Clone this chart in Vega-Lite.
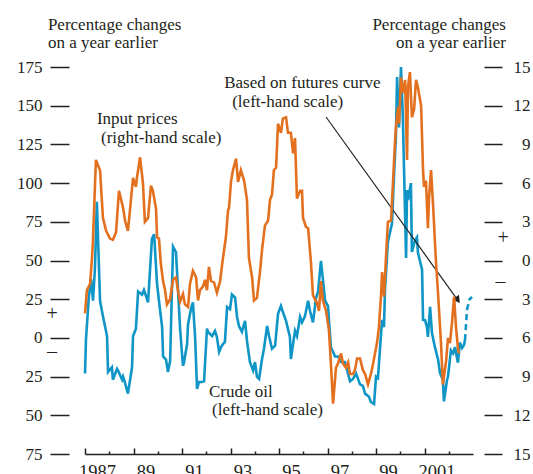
{
  "$schema": "https://vega.github.io/schema/vega-lite/v6.json",
  "width": 388,
  "height": 387,
  "autosize": "none",
  "padding": {"left": 85, "top": 67, "right": 60, "bottom": 20},
  "config": {
    "view": {"stroke": null},
    "font": "Liberation Serif",
    "axis": {"grid": false, "labelFont": "Liberation Serif", "labelFontSize": 17, "labelColor": "#231f20", "tickColor": "#231f20", "domainColor": "#231f20", "tickWidth": 1.5, "domainWidth": 1.5},
    "text": {"font": "Liberation Serif", "fontSize": 17, "color": "#231f20"}
  },
  "datasets": {
    "crude": [
      {"t": 1987.00, "v": -23}, {"t": 1987.04, "v": -1}, {"t": 1987.16, "v": 27}, {"t": 1987.25, "v": 38}, {"t": 1987.33, "v": 24}, {"t": 1987.41, "v": 45}, {"t": 1987.49, "v": 88}, {"t": 1987.62, "v": 24}, {"t": 1987.74, "v": 14}, {"t": 1987.91, "v": 1}, {"t": 1987.95, "v": -22},
      {"t": 1988.11, "v": -19}, {"t": 1988.15, "v": -27}, {"t": 1988.32, "v": -20}, {"t": 1988.36, "v": -21}, {"t": 1988.53, "v": -27}, {"t": 1988.57, "v": -25}, {"t": 1988.65, "v": -29}, {"t": 1988.77, "v": -36}, {"t": 1988.94, "v": -19}, {"t": 1988.98, "v": 1},
      {"t": 1989.10, "v": 6}, {"t": 1989.19, "v": 30}, {"t": 1989.35, "v": 28}, {"t": 1989.43, "v": 31}, {"t": 1989.56, "v": 25}, {"t": 1989.60, "v": 23}, {"t": 1989.76, "v": 64}, {"t": 1989.85, "v": 67}, {"t": 1989.97, "v": 35},
      {"t": 1990.05, "v": 24}, {"t": 1990.18, "v": 7}, {"t": 1990.22, "v": -12}, {"t": 1990.34, "v": -14}, {"t": 1990.42, "v": -22}, {"t": 1990.51, "v": -15}, {"t": 1990.63, "v": 59}, {"t": 1990.75, "v": 55.5}, {"t": 1990.84, "v": 30}, {"t": 1990.92, "v": 6},
      {"t": 1991.04, "v": -18}, {"t": 1991.08, "v": -16}, {"t": 1991.21, "v": -4}, {"t": 1991.25, "v": 9}, {"t": 1991.37, "v": 18.6}, {"t": 1991.45, "v": 23}, {"t": 1991.54, "v": 0.6}, {"t": 1991.62, "v": -33}, {"t": 1991.70, "v": -28.5}, {"t": 1991.82, "v": -28.5}, {"t": 1991.91, "v": -28},
      {"t": 1992.03, "v": 6}, {"t": 1992.07, "v": 4}, {"t": 1992.24, "v": 1.2}, {"t": 1992.36, "v": 4.5}, {"t": 1992.44, "v": 0.6}, {"t": 1992.53, "v": -9}, {"t": 1992.61, "v": -6}, {"t": 1992.69, "v": -4}, {"t": 1992.77, "v": -2.6}, {"t": 1992.86, "v": 20}, {"t": 1992.98, "v": 18.6},
      {"t": 1993.06, "v": 28}, {"t": 1993.19, "v": 26}, {"t": 1993.27, "v": 13.5}, {"t": 1993.35, "v": 7.7}, {"t": 1993.47, "v": 4}, {"t": 1993.60, "v": 11}, {"t": 1993.68, "v": -2}, {"t": 1993.80, "v": -15.6}, {"t": 1993.93, "v": -21},
      {"t": 1994.01, "v": -15.6}, {"t": 1994.09, "v": -25}, {"t": 1994.18, "v": -26.5}, {"t": 1994.30, "v": -13.6}, {"t": 1994.38, "v": -7}, {"t": 1994.51, "v": 7.7}, {"t": 1994.59, "v": 1.2}, {"t": 1994.71, "v": -7}, {"t": 1994.84, "v": -5}, {"t": 1994.96, "v": 15.5},
      {"t": 1995.08, "v": 20.6}, {"t": 1995.16, "v": 16.7}, {"t": 1995.29, "v": 11}, {"t": 1995.45, "v": 0.6}, {"t": 1995.49, "v": -13.6}, {"t": 1995.66, "v": 4.5}, {"t": 1995.74, "v": 1.2}, {"t": 1995.87, "v": 13.5}, {"t": 1995.95, "v": 10},
      {"t": 1996.07, "v": 14}, {"t": 1996.20, "v": 24}, {"t": 1996.28, "v": 17.4}, {"t": 1996.40, "v": 10}, {"t": 1996.53, "v": 26}, {"t": 1996.61, "v": 29.7}, {"t": 1996.73, "v": 49.7}, {"t": 1996.81, "v": 38}, {"t": 1996.90, "v": 24},
      {"t": 1997.02, "v": 20.6}, {"t": 1997.14, "v": -6}, {"t": 1997.23, "v": -9}, {"t": 1997.31, "v": -12}, {"t": 1997.43, "v": -12}, {"t": 1997.56, "v": -15.6}, {"t": 1997.72, "v": -15.6}, {"t": 1997.76, "v": -18}, {"t": 1997.93, "v": -28},
      {"t": 1998.05, "v": -26.5}, {"t": 1998.18, "v": -23}, {"t": 1998.34, "v": -30}, {"t": 1998.46, "v": -31}, {"t": 1998.55, "v": -36}, {"t": 1998.71, "v": -38}, {"t": 1998.79, "v": -41.4}, {"t": 1998.92, "v": -42.7},
      {"t": 1999.00, "v": -25}, {"t": 1999.08, "v": -26}, {"t": 1999.16, "v": -8}, {"t": 1999.25, "v": 11.6}, {"t": 1999.33, "v": 7}, {"t": 1999.37, "v": 31}, {"t": 1999.49, "v": 62}, {"t": 1999.66, "v": 74}, {"t": 1999.74, "v": 104}, {"t": 1999.82, "v": 130}, {"t": 1999.87, "v": 168.5}, {"t": 1999.95, "v": 136},
      {"t": 2000.03, "v": 175}, {"t": 2000.11, "v": 141}, {"t": 2000.15, "v": 113}, {"t": 2000.24, "v": 51.6}, {"t": 2000.28, "v": 95.5}, {"t": 2000.32, "v": 89}, {"t": 2000.44, "v": 100}, {"t": 2000.48, "v": 55.5}, {"t": 2000.61, "v": 63}, {"t": 2000.69, "v": 65}, {"t": 2000.73, "v": 55}, {"t": 2000.90, "v": 44}, {"t": 2000.94, "v": 11.6},
      {"t": 2001.02, "v": 11.6}, {"t": 2001.10, "v": 7}, {"t": 2001.14, "v": 0.6}, {"t": 2001.23, "v": 20}, {"t": 2001.31, "v": 3}, {"t": 2001.43, "v": -6}, {"t": 2001.56, "v": -14}, {"t": 2001.64, "v": -22.7}, {"t": 2001.76, "v": -27}, {"t": 2001.80, "v": -41}, {"t": 2001.93, "v": -27}, {"t": 2001.97, "v": -25},
      {"t": 2002.09, "v": -8}, {"t": 2002.18, "v": -10}, {"t": 2002.26, "v": -6}, {"t": 2002.34, "v": -13}, {"t": 2002.38, "v": -16}, {"t": 2002.46, "v": -3}, {"t": 2002.55, "v": -6.5}, {"t": 2002.63, "v": -4.6}, {"t": 2002.67, "v": -1.4}
    ],
    "futures": [
      {"t": 2002.67, "v": -1.4}, {"t": 2002.71, "v": 8}, {"t": 2002.75, "v": 18}, {"t": 2002.86, "v": 25}, {"t": 2002.96, "v": 26.5}
    ],
    "input": [
      {"t": 1987.00, "v": -4.1}, {"t": 1987.08, "v": -2.3}, {"t": 1987.21, "v": -1.8}, {"t": 1987.29, "v": 0.2}, {"t": 1987.33, "v": 1.6}, {"t": 1987.45, "v": 7.8}, {"t": 1987.62, "v": 7.0}, {"t": 1987.74, "v": 3.3}, {"t": 1987.87, "v": 2.3},
      {"t": 1988.03, "v": 1.7}, {"t": 1988.15, "v": 1.6}, {"t": 1988.28, "v": 2.2}, {"t": 1988.40, "v": 5.4}, {"t": 1988.57, "v": 4.1}, {"t": 1988.65, "v": 3.1}, {"t": 1988.77, "v": 2.3}, {"t": 1988.86, "v": 4.0}, {"t": 1988.98, "v": 6.4},
      {"t": 1989.10, "v": 5.7}, {"t": 1989.14, "v": 6.4}, {"t": 1989.27, "v": 8.0}, {"t": 1989.39, "v": 6.0}, {"t": 1989.47, "v": 3.0}, {"t": 1989.60, "v": 3.3}, {"t": 1989.72, "v": 5.8}, {"t": 1989.80, "v": 5.4}, {"t": 1989.93, "v": 4.0}, {"t": 1989.97, "v": 1.8},
      {"t": 1990.05, "v": 1.7}, {"t": 1990.13, "v": -0.3}, {"t": 1990.22, "v": -1.6}, {"t": 1990.30, "v": -2.3}, {"t": 1990.38, "v": -3.4}, {"t": 1990.51, "v": -3.0}, {"t": 1990.63, "v": -1.5}, {"t": 1990.75, "v": -1.3}, {"t": 1990.84, "v": -2.4}, {"t": 1990.92, "v": -3.2},
      {"t": 1991.04, "v": -2.6}, {"t": 1991.12, "v": -3.4}, {"t": 1991.25, "v": -3.6}, {"t": 1991.33, "v": -1.8}, {"t": 1991.45, "v": -0.8}, {"t": 1991.58, "v": -1.3}, {"t": 1991.66, "v": -3.1}, {"t": 1991.74, "v": -2.3}, {"t": 1991.87, "v": -2.0}, {"t": 1991.95, "v": -1.5},
      {"t": 1992.03, "v": -2.3}, {"t": 1992.11, "v": -0.5}, {"t": 1992.20, "v": -1.6}, {"t": 1992.32, "v": -1.7}, {"t": 1992.44, "v": -2.5}, {"t": 1992.57, "v": -1.6}, {"t": 1992.69, "v": 0.2}, {"t": 1992.81, "v": 1.8}, {"t": 1992.90, "v": 3.9}, {"t": 1992.94, "v": 4.1},
      {"t": 1993.02, "v": 6.1}, {"t": 1993.10, "v": 7.0}, {"t": 1993.23, "v": 7.9}, {"t": 1993.31, "v": 6.1}, {"t": 1993.43, "v": 7.0}, {"t": 1993.56, "v": 6.2}, {"t": 1993.68, "v": 4.7}, {"t": 1993.76, "v": 0.2}, {"t": 1993.89, "v": -1.3}, {"t": 1993.97, "v": -3.1},
      {"t": 1994.09, "v": -2.9}, {"t": 1994.22, "v": -0.8}, {"t": 1994.30, "v": 0.8}, {"t": 1994.42, "v": 2.7}, {"t": 1994.55, "v": 3.1}, {"t": 1994.63, "v": 4.7}, {"t": 1994.71, "v": 5.1}, {"t": 1994.79, "v": 7.0}, {"t": 1994.88, "v": 7.2}, {"t": 1994.96, "v": 10.6},
      {"t": 1995.08, "v": 9.9}, {"t": 1995.16, "v": 11.0}, {"t": 1995.29, "v": 11.1}, {"t": 1995.37, "v": 9.9}, {"t": 1995.49, "v": 9.9}, {"t": 1995.58, "v": 8.3}, {"t": 1995.66, "v": 9.5}, {"t": 1995.74, "v": 4.8}, {"t": 1995.87, "v": 5.4}, {"t": 1995.95, "v": 5.4}, {"t": 1995.99, "v": 3.3},
      {"t": 1996.11, "v": 2.6}, {"t": 1996.20, "v": 2.5}, {"t": 1996.32, "v": -0.2}, {"t": 1996.40, "v": -2.7}, {"t": 1996.57, "v": -3.3}, {"t": 1996.65, "v": -3.9}, {"t": 1996.73, "v": -1.6}, {"t": 1996.81, "v": -3.1}, {"t": 1996.94, "v": -3.9},
      {"t": 1997.06, "v": -5.4}, {"t": 1997.14, "v": -8.0}, {"t": 1997.23, "v": -11.1}, {"t": 1997.35, "v": -8.3}, {"t": 1997.43, "v": -8.0}, {"t": 1997.56, "v": -7.2}, {"t": 1997.64, "v": -8.0}, {"t": 1997.76, "v": -8.3}, {"t": 1997.85, "v": -7.9}, {"t": 1997.93, "v": -8.8},
      {"t": 1998.05, "v": -8.8}, {"t": 1998.13, "v": -8.5}, {"t": 1998.22, "v": -7.6}, {"t": 1998.34, "v": -7.6}, {"t": 1998.46, "v": -8.5}, {"t": 1998.55, "v": -8.8}, {"t": 1998.67, "v": -9.6}, {"t": 1998.79, "v": -8.8}, {"t": 1998.88, "v": -8.0}, {"t": 1998.96, "v": -7.2},
      {"t": 1999.04, "v": -6.4}, {"t": 1999.12, "v": -5.2}, {"t": 1999.21, "v": -2.6}, {"t": 1999.25, "v": -0.9}, {"t": 1999.33, "v": -2.8}, {"t": 1999.41, "v": 0.2}, {"t": 1999.49, "v": 3.0}, {"t": 1999.62, "v": 3.1}, {"t": 1999.70, "v": 6.0}, {"t": 1999.78, "v": 9.1}, {"t": 1999.82, "v": 10.3}, {"t": 1999.91, "v": 11.9}, {"t": 1999.95, "v": 10.6},
      {"t": 2000.03, "v": 14.2}, {"t": 2000.11, "v": 13.0}, {"t": 2000.20, "v": 14.0}, {"t": 2000.28, "v": 7.8}, {"t": 2000.32, "v": 13.5}, {"t": 2000.40, "v": 14.6}, {"t": 2000.48, "v": 11.1}, {"t": 2000.57, "v": 11.7}, {"t": 2000.65, "v": 14.0}, {"t": 2000.73, "v": 13.4}, {"t": 2000.86, "v": 12.0}, {"t": 2000.94, "v": 7.0}, {"t": 2000.98, "v": 5.7},
      {"t": 2001.06, "v": 6.2}, {"t": 2001.14, "v": 2.5}, {"t": 2001.19, "v": 4.9}, {"t": 2001.27, "v": 7.0}, {"t": 2001.35, "v": 4.4}, {"t": 2001.47, "v": 0}, {"t": 2001.56, "v": -2.6}, {"t": 2001.68, "v": -6.4}, {"t": 2001.76, "v": -9.6}, {"t": 2001.89, "v": -7.8}, {"t": 2001.97, "v": -6.0},
      {"t": 2002.05, "v": -6.4}, {"t": 2002.13, "v": -4.9}, {"t": 2002.22, "v": -2.8}, {"t": 2002.30, "v": -5.2}, {"t": 2002.38, "v": -6.8}, {"t": 2002.42, "v": -7.2}
    ],
    "labelsLeft": [
      {"t": 1985.47, "v": 202.1, "label": "Percentage changes"},
      {"t": 1985.47, "v": 190.5, "label": "on a year earlier"},
      {"t": 1987.49, "v": 141.4, "label": "Input prices"},
      {"t": 1987.66, "v": 129.1, "label": "(right-hand scale)"},
      {"t": 1992.74, "v": 164.5, "label": "Based on futures curve"},
      {"t": 1993.07, "v": 152.2, "label": "(left-hand scale)"},
      {"t": 1992.11, "v": -34.9, "label": "Crude oil"},
      {"t": 1992.24, "v": -46.6, "label": "(left-hand scale)"}
    ],
    "labelsRight": [
      {"t": 2004.36, "v": 202.1, "label": "Percentage changes"},
      {"t": 2004.36, "v": 190.5, "label": "on a year earlier"}
    ],
    "signs": [
      {"t": 1985.64, "v": 15.4, "label": "+"},
      {"t": 1985.64, "v": -9.1, "label": "–"},
      {"t": 2004.24, "v": 64.4, "label": "+"},
      {"t": 2004.13, "v": 35.9, "label": "–"}
    ],
    "arrow": [
      {"t": 1996.94, "v": 142.7, "t2": 2002.34, "v2": 25.1}
    ],
    "arrowHead": [
      {"t": 2002.34, "v": 25.1}
    ]
  },
  "encoding": {
    "x": {"field": "t", "type": "quantitative", "scale": {"domain": [1987, 2003], "nice": false, "zero": false},
      "axis": {"values": [1987,1988,1989,1990,1991,1992,1993,1994,1995,1996,1997,1998,1999,2000,2001,2002], "title": null, "orient": "bottom", "domain": true,
        "tickSize": {"condition": {"test": "datum.value % 2 == 1", "value": -6}, "value": -3},
        "labelFontSize": 18.5, "labelPadding": 14, "labelOffset": 12, "labelAlign": "center", "labelBaseline": "top", "labelFlush": false, "labelOverlap": false,
        "labelExpr": "datum.value % 2 == 1 ? (datum.value == 1987 || datum.value == 2001 ? toString(datum.value) : substring(toString(datum.value), 2)) : ''"}}
  },
  "layer": [
    {
      "encoding": {
        "y": {"field": "v", "type": "quantitative", "scale": {"domain": [-75, 175], "nice": false, "zero": false},
          "axis": {"values": [-75,-50,-25,0,25,50,75,100,125,150,175], "title": null, "orient": "left", "domain": false, "offset": 16, "tickSize": 19, "labelPadding": 8, "labelExpr": "toString(abs(datum.value))"}}
      },
      "layer": [
        {
          "data": {"name": "crude"},
          "mark": {"type": "line", "color": "#0f95c6", "strokeWidth": 2.6}
        },
        {
          "data": {"name": "futures"},
          "mark": {"type": "line", "color": "#0f95c6", "strokeWidth": 2.6, "strokeDash": [6, 4]}
        },
        {
          "data": {"name": "arrow"},
          "mark": {"type": "rule", "color": "#231f20", "strokeWidth": 1.2},
          "encoding": {
            "x2": {"field": "t2"},
            "y2": {"field": "v2"}
          }
        },
        {
          "data": {"name": "arrowHead"},
          "mark": {"type": "point", "shape": "triangle", "filled": true, "color": "#231f20", "size": 70, "angle": 144, "opacity": 1}
        },
        {
          "data": {"name": "labelsLeft"},
          "mark": {"type": "text", "align": "left", "baseline": "middle"},
          "encoding": {"text": {"field": "label"}}
        },
        {
          "data": {"name": "labelsRight"},
          "mark": {"type": "text", "align": "right", "baseline": "middle"},
          "encoding": {"text": {"field": "label"}}
        },
        {
          "data": {"name": "signs"},
          "mark": {"type": "text", "align": "center", "baseline": "middle", "fontSize": 20},
          "encoding": {"text": {"field": "label"}}
        }
      ]
    },
    {
      "data": {"name": "input"},
      "mark": {"type": "line", "color": "#e3701e", "strokeWidth": 2.6},
      "encoding": {
        "y": {"field": "v", "type": "quantitative", "scale": {"domain": [-15, 15], "nice": false, "zero": false},
          "axis": {"values": [-15,-12,-9,-6,-3,0,3,6,9,12,15], "title": null, "orient": "right", "domain": false, "offset": 11, "tickSize": 18, "labelAlign": "right", "labelPadding": 28, "labelExpr": "toString(abs(datum.value))"}}
      }
    }
  ],
  "resolve": {"scale": {"y": "independent"}}
}
